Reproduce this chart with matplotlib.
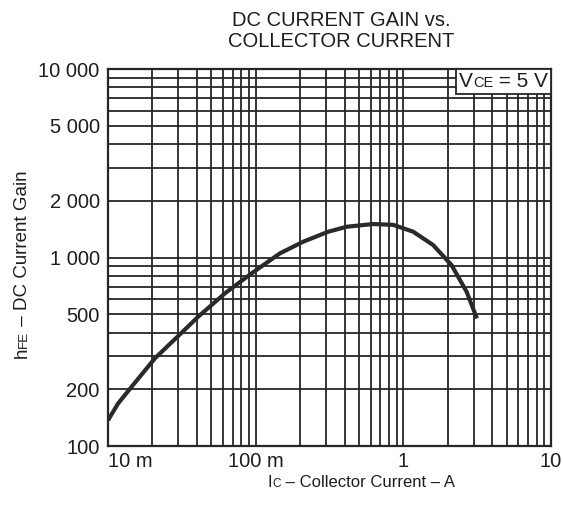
import numpy as np
import matplotlib
matplotlib.use('Agg')
import matplotlib.pyplot as plt
from matplotlib.ticker import FixedLocator, LogLocator, NullFormatter
from matplotlib.offsetbox import TextArea, HPacker, AnchoredOffsetbox

plt.rcParams['font.family'] = ['Liberation Sans', 'DejaVu Sans']

# curve
ic = [0.0100, 0.0117, 0.0148, 0.0208, 0.0312, 0.0408, 0.062, 0.0939, 0.146,
      0.21, 0.31, 0.413, 0.625, 0.854, 1.167, 1.59, 2.12, 2.68, 3.15]
hfe = [137, 168, 211, 292, 396, 485, 646, 824, 1052,
       1213, 1370, 1456, 1505, 1490, 1370, 1165, 912, 659, 475]

x_ticks = [0.01, 0.1, 1, 10]
x_labels = ['10 m', '100 m', '1', '10']
y_ticks = [100, 200, 500, 1000, 2000, 5000, 10000]
y_labels = ['100', '200', '500', '1 000', '2 000', '5 000', '10 000']

grid_c = '#262626'
ink = '#1e1e1e'

fig = plt.figure(figsize=(5.63, 5.15), dpi=100)
ax = fig.add_axes([108 / 563, 1 - 446 / 515, 443 / 563, 377 / 515])

ax.set_xscale('log')
ax.set_yscale('log')
ax.set_xlim(0.01, 10)
ax.set_ylim(100, 10000)

ax.xaxis.set_major_locator(FixedLocator(x_ticks))
ax.yaxis.set_major_locator(FixedLocator(y_ticks))
ax.set_xticklabels(x_labels)
ax.set_yticklabels(y_labels)
ax.xaxis.set_minor_locator(LogLocator(base=10, subs=np.arange(2, 10)))
ax.yaxis.set_minor_locator(LogLocator(base=10, subs=np.arange(2, 10)))
ax.xaxis.set_minor_formatter(NullFormatter())
ax.yaxis.set_minor_formatter(NullFormatter())
ax.tick_params(which='both', length=0)
ax.tick_params(axis='y', pad=6, labelsize=14.5, colors=ink)
ax.tick_params(axis='x', pad=4, labelsize=14.5, colors=ink)
ax.get_xticklabels()[0].set_horizontalalignment('left')

ax.grid(True, which='both', color=grid_c, linewidth=1.3)
for s in ax.spines.values():
    s.set_linewidth(1.6)
    s.set_color(grid_c)

ax.plot(ic, hfe, color='#2a2a2a', linewidth=3.0, solid_capstyle='butt', zorder=3)

# V_CE box
box = HPacker(children=[TextArea('V', textprops=dict(fontsize=15, color=ink)),
                        TextArea('CE', textprops=dict(fontsize=10.5, color=ink)),
                        TextArea(' = 5 V', textprops=dict(fontsize=15, color=ink))],
              align='baseline', pad=0, sep=0)
anc = AnchoredOffsetbox(loc='upper right', child=box, pad=0.2, borderpad=0,
                        frameon=True)
anc.patch.set_edgecolor(grid_c)
anc.patch.set_linewidth(1.3)
anc.patch.set_facecolor('white')
anc.zorder = 5
ax.add_artist(anc)

# titles
fig.text(341 / 563, 1 - 26 / 515, 'DC CURRENT GAIN vs.', ha='center', va='baseline',
         fontsize=14.5, color=ink)
fig.text(341 / 563, 1 - 47 / 515, 'COLLECTOR CURRENT', ha='center', va='baseline',
         fontsize=14.5, color=ink)

# axis labels with small-caps subscripts
renderer = fig.canvas.get_renderer()


def rich(pieces, x, y, rotation=0):
    widths = []
    for s, sz in pieces:
        t = fig.text(0, 0, s, fontsize=sz)
        widths.append(t.get_window_extent(renderer).width)
        t.remove()
    pos = -sum(widths) / 2
    for (s, sz), w in zip(pieces, widths):
        if rotation == 0:
            px, py = x + pos, y
        else:
            px, py = x, y + pos
        fig.text(px / 563, py / 515, s, fontsize=sz, color=ink, ha='left', va='baseline',
                 rotation=rotation, rotation_mode='anchor')
        pos += w


rich([('I', 12), ('C', 8.5), (' \u2013 Collector Current \u2013 A', 12)], 361, 515 - 487)
rich([('h', 13.5), ('FE', 9.5), (' \u2013 DC Current Gain', 13.5)], 27, 515 - 264, rotation=90)

fig.savefig('out.png', dpi=100, facecolor='white')
